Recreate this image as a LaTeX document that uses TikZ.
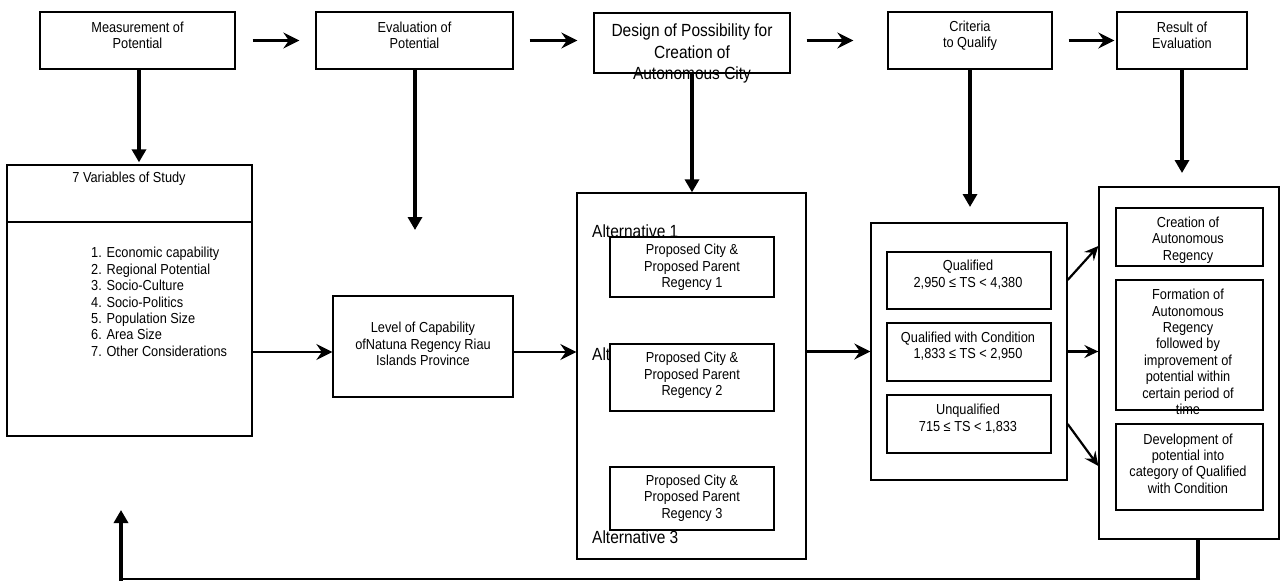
\documentclass[tikz,border=0pt]{standalone}
\usepackage{fontspec}
\setmainfont{Liberation Sans}[FakeStretch=0.88]
\usetikzlibrary{arrows.meta,calc}
\begin{document}
\begin{tikzpicture}[x=1pt,y=-1pt,
  box/.style={draw=black, line width=1.3pt, fill=white, inner sep=0pt},
  sm/.style={font=\fontsize{14.5}{16.4}\selectfont, align=center, inner sep=0pt},
  bg/.style={font=\fontsize{17.6}{21.5}\selectfont, align=center, inner sep=0pt},
  harrow/.style={line width=2.8pt, -{Stealth[length=16pt,width=16pt,inset=5.5pt]}},
  varrow/.style={line width=4pt, -{Triangle[length=13pt,width=14pt]}},
  darrow/.style={line width=2.2pt, -{Stealth[length=14pt,width=13pt,inset=5pt]}}]
\useasboundingbox[fill=white] (0,0) rectangle (1280,581);

% top row
\node[box, minimum width=195pt, minimum height=57pt] (m) at (137.5,40.5) {};
\node[sm] (mt) at (137.5,35.5) {Measurement of\\Potential};
\node[box, minimum width=197pt, minimum height=57pt] (e) at (414.5,40.5) {};
\node[sm] (et) at (414.5,35.5) {Evaluation of\\Potential};
\node[box, minimum width=196pt, minimum height=60pt] (d) at (692,43) {};
\node[bg] (dt) at (692,53.5) {Design of Possibility for\\Creation of\\Autonomous City};
\node[box, minimum width=164pt, minimum height=57pt] (c) at (970,40.5) {};
\node[sm] (ct) at (970,35.5) {Criteria\\to Qualify};
\node[box, minimum width=130pt, minimum height=57pt] (r) at (1182,40.5) {};
\node[sm] (rt) at (1182,35.5) {Result of\\Evaluation};

\draw[harrow, shorten <=17pt, shorten >=16pt] (m.east) -- (e.west);
\draw[harrow, shorten <=16pt, shorten >=16pt] (e.east) -- (e.east -| d.west);
\draw[harrow, shorten <=16pt, shorten >=34pt] (d.east |- c.west) -- (c.west);
\draw[harrow, shorten <=16pt, shorten >=2pt] (c.east) -- (r.west);

% 7 variables
\node[box, minimum width=245pt, minimum height=271pt] (var) at (129.5,300.5) {};
\draw[line width=1.3pt] (var.west |- 0,222) -- (var.east |- 0,222);
\node[sm] (vt) at (129,179) {7 Variables of Study};
\node[sm, align=left, anchor=west] (vl) at (91,302) {1. Economic capability\\2. Regional Potential\\3. Socio-Culture\\4. Socio-Politics\\5. Population Size\\6. Area Size\\7. Other Considerations};

% level
\node[box, minimum width=180pt, minimum height=101pt] (lev) at (423,346.5) {};
\node[sm] (levt) at (423,344) {Level of Capability\\ofNatuna Regency Riau\\Islands Province};

% alternatives
\node[box, minimum width=229pt, minimum height=366pt] (alt) at (691.5,376) {};
\node[bg, anchor=base west] (a1) at (592,237) {Alternative 1};
\node[bg, anchor=base west] (a2) at (592,360) {Alternative 2};
\node[bg, anchor=base west] (a3) at (592,543) {Alternative 3};
\node[box, minimum width=164pt, minimum height=60pt] (s1) at (692,267) {};
\node[sm] (s1t) at (692,267.5) {Proposed City \&\\Proposed Parent\\Regency 1};
\node[box, minimum width=164pt, minimum height=67pt] (s2) at (692,377.5) {};
\node[sm] (s2t) at (692,375.5) {Proposed City \&\\Proposed Parent\\Regency 2};
\node[box, minimum width=164pt, minimum height=63pt] (s3) at (692,498.5) {};
\node[sm] (s3t) at (692,498) {Proposed City \&\\Proposed Parent\\Regency 3};

% criteria
\node[box, minimum width=196pt, minimum height=257pt] (crit) at (969,351.5) {};
\node[box, minimum width=164pt, minimum height=57pt] (q1) at (969,280.5) {};
\node[sm] (q1t) at (968,274.5) {Qualified\\2,950 ≤ TS < 4,380};
\node[box, minimum width=164pt, minimum height=58pt] (q2) at (969,352) {};
\node[sm] (q2t) at (968,346) {Qualified with Condition\\1,833 ≤ TS < 2,950};
\node[box, minimum width=164pt, minimum height=58pt] (q3) at (969,424) {};
\node[sm] (q3t) at (968,418.5) {Unqualified\\715 ≤ TS < 1,833};

% result
\node[box, minimum width=180pt, minimum height=352pt] (res) at (1189,363) {};
\node[box, minimum width=147pt, minimum height=58pt] (r1) at (1189.5,237) {};
\node[sm] (r1t) at (1188,240) {Creation of\\Autonomous\\Regency};
\node[box, minimum width=147pt, minimum height=130pt] (r2) at (1189.5,345) {};
\node[sm] (r2t) at (1188,352) {Formation of\\Autonomous\\Regency\\followed by\\improvement of\\potential within\\certain period of\\time};
\node[box, minimum width=147pt, minimum height=86pt] (r3) at (1189.5,467) {};
\node[sm] (r3t) at (1188,463.5) {Development of\\potential into\\category of Qualified\\with Condition};

% vertical arrows
\coordinate (etip) at (415,230);
\coordinate (ctip) at (970,207);
\coordinate (rtip) at (1182,173);
\draw[varrow, shorten >=2pt] ([xshift=1.5pt]m.south) -- ([xshift=1.5pt]m.south |- var.north);
\draw[varrow] (e.south -| etip) -- (etip);
\draw[varrow] (d.south) -- (d.south |- alt.north);
\draw[varrow] (c.south) -- (ctip);
\draw[varrow] (r.south) -- (rtip);

% middle horizontal arrows
\draw[harrow] ([yshift=-5.5pt]lev.west -| var.east) -- ([yshift=-5.5pt]lev.west);
\draw[harrow] ([yshift=-5.5pt]lev.east) -- ([yshift=-5.5pt]lev.east -| alt.west);
\draw[harrow] (crit.west -| alt.east) -- (crit.west);

% criteria to result
\draw[darrow] ([yshift=71.5pt]crit.east) -- ([yshift=117pt]res.west);
\draw[darrow] (crit.east) -- (crit.east -| res.west);
\draw[darrow] ([yshift=-72.5pt]crit.east) -- ([yshift=-103pt]res.west);

% feedback loop
\coordinate (fbA) at (1198,579);
\coordinate (fbB) at (121,579);
\coordinate (fbT) at (121,510);
\draw[line width=4pt] ([xshift=9pt]res.south) -- (fbA);
\draw[line width=1.5pt] ([xshift=2pt]fbA) -- ([xshift=-2pt]fbB);
\draw[varrow] ([yshift=-1.5pt]fbB) -- (fbT);
\end{tikzpicture}
\end{document}
